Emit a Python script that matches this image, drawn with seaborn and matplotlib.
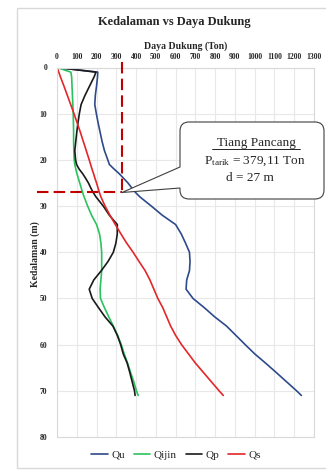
import numpy as np
import pandas as pd
import matplotlib
matplotlib.use("Agg")
import matplotlib.pyplot as plt
import seaborn as sns
from matplotlib.path import Path
from matplotlib.patches import PathPatch, Rectangle
from matplotlib.lines import Line2D
from matplotlib.transforms import Affine2D

W, H = 326, 471

# --- data (depth in m, capacity in Ton) ---
depth = [0, 1, 2, 4, 6, 8, 10, 12, 14, 16, 18, 20, 21, 22, 23, 24, 25, 26, 27, 28,
         30, 32, 34, 36, 38, 40, 42, 44, 46, 48, 50, 52, 54, 56, 58, 60, 62, 64, 66, 68, 70, 71]
qu = [0, 206, 205, 200, 194, 191, 199, 208, 218, 228, 240, 257, 265, 289, 315, 337, 359, 377, 396, 419,
      477, 533, 600, 628, 650, 670, 673, 670, 656, 653, 688, 745, 798, 858, 905, 952, 1000, 1055, 1108, 1160, 1212, 1236]
qijin = [0, 70, 74, 76, 78, 80, 82, 83, 84, 84, 85, 87, 90, 95, 101, 108, 115, 122, 129, 137,
         155, 175, 200, 215, 222, 226, 226, 226, 222, 218, 220, 240, 262, 285, 307, 325, 340, 357, 372, 388, 402, 411]
qp = [0, 197, 188, 165, 142, 122, 113, 106, 100, 95, 90, 94, 99, 112, 130, 145, 159, 170, 182, 197,
      234, 265, 305, 305, 298, 285, 258, 224, 186, 163, 178, 210, 243, 283, 305, 322, 335, 355, 368, 380, 392, 395]
qs = [0, 9, 17, 35, 52, 69, 86, 102, 118, 133, 148, 163, 170, 177, 185, 192, 200, 207, 214, 222,
      243, 268, 295, 323, 352, 385, 415, 446, 470, 490, 510, 535, 555, 575, 600, 630, 665, 700, 740, 780, 820, 841]

series_names = ["Qu", "Qijin", "Qp", "Qs"]
colors = ["#2E4A8B", "#2BC25E", "#1A1A1A", "#E3262A"]

p_tarik = 379.11
d_tiang = 27
marker_x = 330  # where the dashed guide sits on the x axis

df = pd.DataFrame({
    "depth": depth * 4,
    "value": qu + qijin + qp + qs,
    "series": np.repeat(series_names, len(depth)),
})

sns.set_style("white")
plt.rcParams["font.family"] = "Liberation Serif"
plt.rcParams["mathtext.fontset"] = "custom"
plt.rcParams["mathtext.rm"] = "Liberation Serif"
plt.rcParams["mathtext.it"] = "Liberation Serif:italic"

fig = plt.figure(figsize=(W / 100, H / 100), dpi=100)
px = Affine2D().scale(1 / W, -1 / H).translate(0, 1) + fig.transFigure  # pixel coords, y down

ax = fig.add_axes([57 / W, 1 - 437 / H, (314 - 57) / W, (437 - 67.5) / H])
sns.lineplot(data=df, x="value", y="depth", hue="series", hue_order=series_names,
             palette=colors, sort=False, estimator=None, orient="y", lw=1.2,
             legend=False, ax=ax)

ax.set_xlim(0, 1300)
ax.set_ylim(80, 0)
ax.set_xticks(range(0, 1301, 100))
ax.set_yticks(range(0, 81, 10))
ax.xaxis.tick_top()
ax.set_xlabel("")
ax.set_ylabel("")
ax.tick_params(length=0, labelsize=5.5)
ax.tick_params(axis="x", pad=5)
ax.tick_params(axis="y", pad=7)
for lbl in ax.get_xticklabels() + ax.get_yticklabels():
    lbl.set_fontweight("bold")
ax.grid(True, color="#E8E8E8", lw=0.8)
for sp in ax.spines.values():
    sp.set_color("#D9D9D9")
    sp.set_linewidth(0.8)

# dashed guide lines
ax.plot([marker_x, marker_x], [-1.1, d_tiang], color="#C00000", lw=1.5,
        ls=(0, (5.5, 2.5)), clip_on=False, zorder=4)
ax.plot([-100, marker_x], [d_tiang, d_tiang], color="#C00000", lw=1.5,
        ls=(0, (5.5, 2.5)), clip_on=False, zorder=4)

# callout box
x0, x1, y0, y1, r = 180, 324, 122, 199, 9
tip = (122, 192.5)
verts = [(x0 + r, y0), (x1 - r, y0), (x1, y0), (x1, y0 + r), (x1, y1 - r), (x1, y1),
         (x1 - r, y1), (x0 + r, y1), (x0, y1), (x0, y1 - r), (x0, 188), tip, (x0, 167),
         (x0, y0 + r), (x0, y0), (x0 + r, y0), (x0 + r, y0)]
codes = [Path.MOVETO, Path.LINETO, Path.CURVE3, Path.CURVE3, Path.LINETO, Path.CURVE3,
         Path.CURVE3, Path.LINETO, Path.CURVE3, Path.CURVE3, Path.LINETO, Path.LINETO,
         Path.LINETO, Path.LINETO, Path.CURVE3, Path.CURVE3, Path.CLOSEPOLY]
fig.add_artist(PathPatch(Path(verts, codes), transform=px, fc="white", ec="#404040",
                         lw=0.8, zorder=5))
fig.text(256, 143, "Tiang Pancang", transform=px, ha="center", va="center",
         fontsize=9.5, zorder=6)
fig.add_artist(Line2D([211.5, 300], [149, 149], transform=px, color="black", lw=0.6, zorder=6))
ptxt = f"{p_tarik:.2f}".replace(".", ",")
fig.text(255, 161, r"P$_{\mathrm{tarik}}$ = " + ptxt + " Ton", transform=px,
         ha="center", va="center", fontsize=9.5, zorder=6)
fig.text(250, 178, f"d = {d_tiang} m", transform=px, ha="center", va="center",
         fontsize=9.5, zorder=6)

# titles
fig.text(174, 22, "Kedalaman vs Daya Dukung", transform=px, ha="center", va="center",
         fontsize=9, fontweight="bold")
fig.text(186, 46, "Daya Dukung (Ton)", transform=px, ha="center", va="center",
         fontsize=7, fontweight="bold")
fig.text(35, 254, "Kedalaman (m)", transform=px, ha="center", va="center",
         rotation=90, fontsize=7, fontweight="bold")

# legend
handles = [Line2D([0], [0], color=c, lw=1.2) for c in colors]
fig.legend(handles, series_names, loc="center", bbox_to_anchor=(176 / W, 1 - 455 / H),
           ncol=4, frameon=False, fontsize=8, handlelength=1.5, handletextpad=0.3,
           columnspacing=0.8)

# chart area border
fig.add_artist(Rectangle((17, 7.5), 320, 460.5, transform=px, fill=False,
                         ec="#D9D9D9", lw=1))

fig.savefig("out.png", dpi=100)
